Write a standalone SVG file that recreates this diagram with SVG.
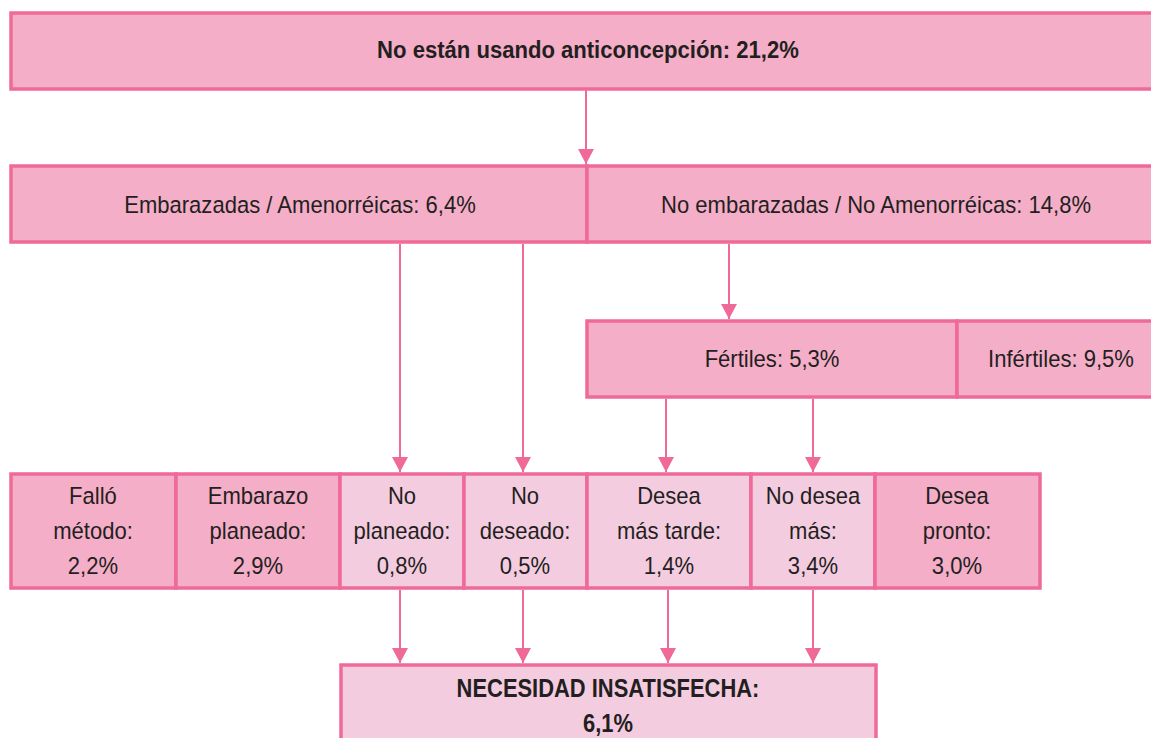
<svg xmlns="http://www.w3.org/2000/svg" width="1151" height="738" viewBox="0 0 1151 738">
<style>
.box{stroke:#EF6A98;stroke-width:3.5}
.d{fill:#F4AEC8}
.l{fill:#F4CCE0}
text{font-family:'Liberation Sans',Arial,sans-serif;font-size:24.5px;fill:#231F20;text-anchor:middle;transform-box:fill-box;transform-origin:center;transform:scaleX(0.9)}
.b{font-weight:bold;font-size:23px;transform:scaleX(0.96)}
.bb{font-weight:bold;font-size:25.5px;transform:scaleX(0.86)}
.c{stroke:#EF6A98;stroke-width:2;fill:none}
</style>
<defs>
<marker id="ah" viewBox="0 0 15 16" refX="15" refY="8" markerWidth="15" markerHeight="16" markerUnits="userSpaceOnUse" orient="auto">
<path d="M0,0 L15,8 L0,16 Z" fill="#EF6A98"/>
</marker>
</defs>
<rect width="1151" height="738" fill="#fff"/>
<g id="top"><rect class="box d" x="11" y="13" width="1155" height="76"/><text class="b" x="588" y="58">No están usando anticoncepción: 21,2%</text></g>
<g id="embarazadas"><rect class="box d" x="11" y="166" width="576" height="76"/><text x="300" y="213">Embarazadas / Amenorréicas: 6,4%</text></g>
<g id="noembarazadas"><rect class="box d" x="587" y="166" width="579" height="76"/><text x="876" y="213">No embarazadas / No Amenorréicas: 14,8%</text></g>
<g id="fertiles"><rect class="box d" x="587" y="321" width="370" height="76"/><text x="772" y="367">Fértiles: 5,3%</text></g>
<g id="infertiles"><rect class="box d" x="957" y="321" width="209" height="76"/><text x="1061" y="367">Infértiles: 9,5%</text></g>
<g id="fallo"><rect class="box d" x="11" y="474" width="165" height="114"/><text x="93" y="504">Falló</text><text x="93" y="539">método:</text><text x="93" y="574">2,2%</text></g>
<g id="planeado"><rect class="box d" x="176" y="474" width="164" height="114"/><text x="258" y="504">Embarazo</text><text x="258" y="539">planeado:</text><text x="258" y="574">2,9%</text></g>
<g id="noplaneado"><rect class="box l" x="340" y="474" width="124" height="114"/><text x="402" y="504">No</text><text x="402" y="539">planeado:</text><text x="402" y="574">0,8%</text></g>
<g id="nodeseado"><rect class="box l" x="464" y="474" width="123" height="114"/><text x="525" y="504">No</text><text x="525" y="539">deseado:</text><text x="525" y="574">0,5%</text></g>
<g id="masTarde"><rect class="box l" x="587" y="474" width="164" height="114"/><text x="669" y="504">Desea</text><text x="669" y="539">más tarde:</text><text x="669" y="574">1,4%</text></g>
<g id="noDeseaMas"><rect class="box l" x="751" y="474" width="124" height="114"/><text x="813" y="504">No desea</text><text x="813" y="539">más:</text><text x="813" y="574">3,4%</text></g>
<g id="pronto"><rect class="box d" x="875" y="474" width="165" height="114"/><text x="957" y="504">Desea</text><text x="957" y="539">pronto:</text><text x="957" y="574">3,0%</text></g>
<g id="necesidad"><rect class="box l" x="341" y="665" width="535" height="90"/><text class="bb" x="608" y="697">NECESIDAD INSATISFECHA:</text><text class="bb" x="608" y="732">6,1%</text></g>
<g id="connectors">
<line class="c" x1="586" y1="90" x2="586" y2="164" marker-end="url(#ah)"/>
<line class="c" x1="400" y1="244" x2="400" y2="472" marker-end="url(#ah)"/>
<line class="c" x1="523" y1="244" x2="523" y2="472" marker-end="url(#ah)"/>
<line class="c" x1="729" y1="244" x2="729" y2="319" marker-end="url(#ah)"/>
<line class="c" x1="666" y1="399" x2="666" y2="472" marker-end="url(#ah)"/>
<line class="c" x1="813" y1="399" x2="813" y2="472" marker-end="url(#ah)"/>
<line class="c" x1="400" y1="590" x2="400" y2="663" marker-end="url(#ah)"/>
<line class="c" x1="523" y1="590" x2="523" y2="663" marker-end="url(#ah)"/>
<line class="c" x1="668" y1="590" x2="668" y2="663" marker-end="url(#ah)"/>
<line class="c" x1="813" y1="590" x2="813" y2="663" marker-end="url(#ah)"/>
</g>
</svg>
